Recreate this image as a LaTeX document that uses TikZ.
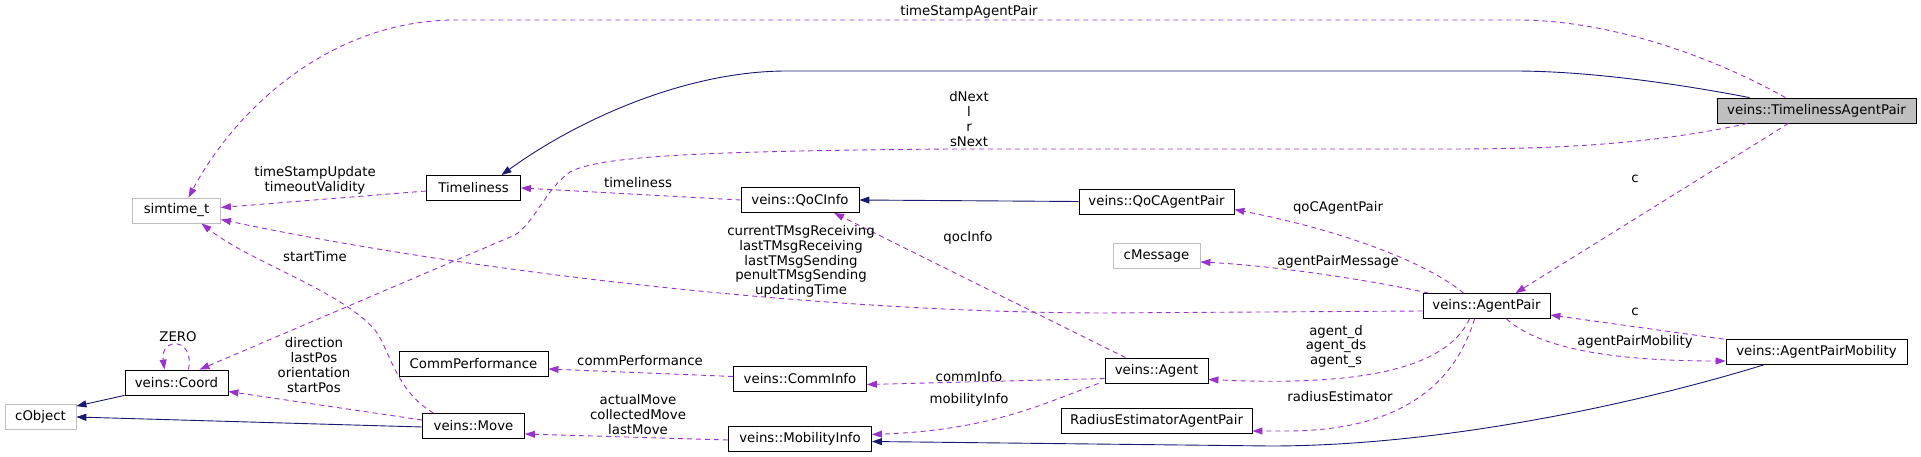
\documentclass[tikz,border=0pt]{standalone}
\usepackage{fontspec}
\setmainfont{DejaVu Sans}
\usetikzlibrary{arrows.meta}

\definecolor{usecol}{HTML}{9A32CD}
\definecolor{inhcol}{HTML}{191970}
\definecolor{undoc}{HTML}{BFBFBF}

\begin{document}
\begin{tikzpicture}[x=1pt,y=-1pt,font=\fontsize{13.3}{14.7}\selectfont,
  cls/.style={draw=black,line width=0.8pt,fill=white,minimum height=25pt,inner sep=0pt,minimum width=#1},
  extcls/.style={cls=#1,draw=undoc},
  focus/.style={cls=#1,fill=undoc},
  usage/.style={draw=usecol,line width=0.9pt,dash pattern=on 5pt off 4pt,-{Triangle[length=10pt,width=7pt]}},
  inherit/.style={draw=inhcol,line width=0.9pt,-{Triangle[length=10pt,width=7pt]}},
  lbl/.style={align=center,inner sep=0pt}]

\useasboundingbox (0,0) rectangle (1921,457);

\def\colA{40.5} \def\colB{176.5} \def\colC{473.5} \def\colD{800} \def\colE{1156.5} \def\colF{1486.5} \def\colG{1816.5}

\node [focus=199pt] (tap) at (\colG,110.5) {veins::TimelinessAgentPair};
\node [cls=181pt] (pairmob) at (\colG,352) {veins::AgentPairMobility};

\node [cls=127pt] (agentpair) at (\colF,306) {veins::AgentPair};

\node [cls=155pt] (qocpair) at (\colE,201.5) {veins::QoCAgentPair};
\node [extcls=87pt] (cmessage) at (\colE,256) {cMessage};
\node [cls=103pt] (agent) at (\colE,370.5) {veins::Agent};
\node [cls=191pt] (radius) at (\colE,421) {RadiusEstimatorAgentPair};

\node [cls=118pt] (qocinfo) at (\colD,200) {veins::QoCInfo};
\node [cls=133pt] (comminfo) at (\colD,378.5) {veins::CommInfo};
\node [cls=143pt] (mobinfo) at (\colD,438.5) {veins::MobilityInfo};

\node [cls=94pt] (timeliness) at (\colC,188) {Timeliness};
\node [cls=149pt] (commperf) at (\colC,364) {CommPerformance};
\node [cls=102pt] (move) at (\colC,426) {veins::Move};

\node [extcls=88pt] (simtime) at (\colB,210.5) {simtime\_t};
\node [cls=103pt] (coord) at (\colB,382.5) {veins::Coord};

\node [extcls=71pt] (cobject) at (\colA,417) {cObject};

\draw [usage] ([xshift=-31pt]tap.north) .. controls (1700,50) and (1600,20) .. (1518,20) -- (456,20) .. controls (330,20) and (235,110) .. ([xshift=12pt]simtime.north);
\draw [inherit] ([xshift=-67pt]tap.north) .. controls (1700,88) and (1600,71) .. (1514,71) -- (787,71) .. controls (680,71) and (570,125) .. ([xshift=28pt]timeliness.north);
\draw [usage] ([xshift=-69pt]tap.south) .. controls (1650,145) and (1550,149) .. (1450,149) -- (950,149) .. controls (720,151) and (600,155) .. (570,172) .. controls (545,190) and (535,222) .. (515,235) -- ([xshift=23pt]coord.north);
\draw [usage] ([xshift=-28pt]tap.south) -- ([xshift=29pt]agentpair.north);

\draw [usage] ([yshift=-3pt]timeliness.west) -- ([yshift=3pt]simtime.east);
\draw [usage] (qocinfo.west) -- (timeliness.east);
\draw [inherit] (qocpair.west) -- (qocinfo.east);
\draw [usage] ([xshift=-23pt]agentpair.north) .. controls (1430,265) and (1350,232) .. ([yshift=-8pt]qocpair.east);
\draw [usage] ([xshift=-58pt]agentpair.north) .. controls (1380,282) and (1280,266) .. ([yshift=-6pt]cmessage.east);
\draw [usage] ([yshift=-5pt]agentpair.west) -- (1100,313) .. controls (800,312) and (450,268) .. ([yshift=-9pt]simtime.east);

\draw [usage] ([xshift=-31pt]agent.north) -- ([xshift=34pt]qocinfo.south);
\draw [usage] ([yshift=-8pt]agent.west) -- ([yshift=-6pt]comminfo.east);
\draw [usage] ([xshift=-58pt]agent.south) .. controls (1040,405) and (990,430) .. ([yshift=4pt]mobinfo.east);
\draw [usage] ([yshift=2pt]comminfo.west) -- ([yshift=-5pt]commperf.east);
\draw [usage] ([yshift=-1.5pt]mobinfo.west) -- ([yshift=-8pt]move.east);

\draw [usage] ([xshift=-40pt]move.north) .. controls (395,390) and (390,350) .. (375,330) .. controls (340,290) and (250,262) .. ([xshift=25pt]simtime.south);
\draw [usage] ([yshift=6pt]move.west) -- ([yshift=-9pt]coord.east);
\draw [inherit] ([yshift=-1pt]move.west) -- (cobject.east);
\draw [inherit] ([xshift=-52pt]coord.south) -- ([yshift=-2pt]cobject.north east);
\draw [usage] ([xshift=12pt]coord.north) .. controls (195,337) and (160,337) .. ([xshift=-12pt]coord.north);

\draw [usage] ([xshift=-17pt]agentpair.south) .. controls (1445,372) and (1350,386) .. ([yshift=-9pt]agent.east);
\draw [usage] ([xshift=-12pt]agentpair.south) .. controls (1450,400) and (1380,430) .. (1290,431) -- ([yshift=-10pt]radius.east);
\draw [usage] ([xshift=20pt]agentpair.south) .. controls (1535,345) and (1600,361) .. ([yshift=-9pt]pairmob.west);
\draw [usage] ([xshift=-2pt]pairmob.north west) -- ([yshift=-9pt]agentpair.east);
\draw [inherit] ([xshift=-53pt]pairmob.south) .. controls (1650,400) and (1450,446) .. (1270,446) -- ([yshift=-3pt]mobinfo.east);

\node [lbl] (lblStamp) at (969,12) {timeStampAgentPair};
\node [lbl] (lblNext) at (969,119) {dNext\\l\\r\\sNext};
\node [lbl] (lblUpdate) at (315,180.5) {timeStampUpdate\\timeoutValidity};
\node [lbl] (lblTimeliness) at (638,183) {timeliness};
\node [lbl] (lblQocPair) at (1338,208) {qoCAgentPair};
\node [lbl] (lblMsg) at (1338,262) {agentPairMessage};
\node [lbl] (lblCTop) at (1635,179) {c};
\node [lbl] (lblTimes) at (801,261.5) {currentTMsgReceiving\\lastTMsgReceiving\\lastTMsgSending\\penultTMsgSending\\updatingTime};
\node [lbl] (lblQoc) at (968,238) {qocInfo};
\node [lbl] (lblComm) at (969,377) {commInfo};
\node [lbl] (lblMob) at (969,400) {mobilityInfo};
\node [lbl] (lblPerf) at (640,361) {commPerformance};
\node [lbl] (lblMoves) at (638,414.5) {actualMove\\collectedMove\\lastMove};
\node [lbl] (lblStart) at (315,257) {startTime};
\node [lbl] (lblDir) at (314,365) {direction\\lastPos\\orientation\\startPos};
\node [lbl] (lblZero) at (178,337) {ZERO};
\node [lbl] (lblAgents) at (1336,346.5) {agent\_d\\agent\_ds\\agent\_s};
\node [lbl] (lblRadius) at (1340,397) {radiusEstimator};
\node [lbl] (lblPairMob) at (1635,342) {agentPairMobility};
\node [lbl] (lblCLow) at (1635,312) {c};
\end{tikzpicture}
\end{document}
